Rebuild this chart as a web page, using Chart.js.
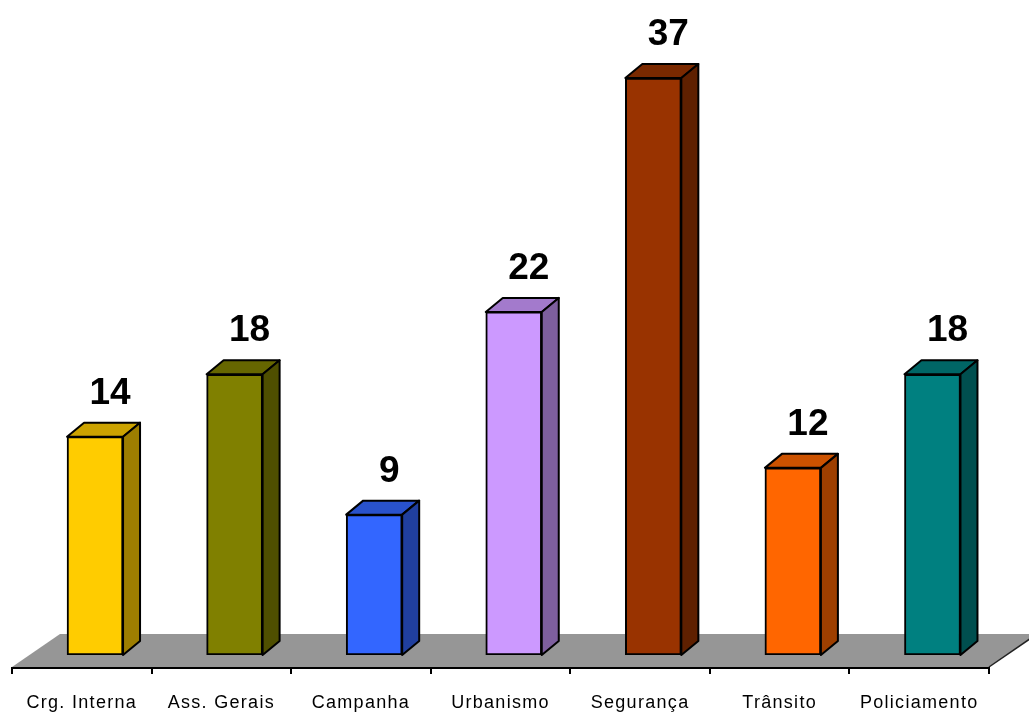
<!DOCTYPE html>
<html>
<head>
<meta charset="utf-8">
<script src="https://cdn.jsdelivr.net/npm/chart.js@4.4.1/dist/chart.umd.min.js"></script>
<style>
    html, body { margin: 0; padding: 0; background: #fff; }
    #wrap { width: 1029px; height: 713px; }
</style>
</head>
<body>
<div id="wrap"><canvas id="chart"></canvas></div>
<script>
    const categories = ['Crg. Interna', 'Ass. Gerais', 'Campanha', 'Urbanismo', 'Segurança', 'Trânsito', 'Policiamento'];
    const values = [14, 18, 9, 22, 37, 12, 18];
    const barColors = ['#ffcc00', '#808000', '#3366ff', '#cc99ff', '#993300', '#ff6600', '#008080'];

    // bars sit a bit to the right of the category centre (3D depth)
    const BAR_SHIFT = 0.095;
    const DEPTH = { dx: 17, dy: -14 };
    const FLOOR = { dx: 48, dy: -33, front: 12 };

    function shade(hex, f) {
        const n = parseInt(hex.slice(1), 16);
        const r = Math.round(((n >> 16) & 255) * f);
        const g = Math.round(((n >> 8) & 255) * f);
        const b = Math.round((n & 255) * f);
        return 'rgb(' + r + ',' + g + ',' + b + ')';
    }

    const bars3d = {
        id: 'bars3d',
        beforeDraw: function(chart) {
            chart.ctx.letterSpacing = '1.3px';
        },
        beforeDatasetsDraw: function(chart) {
            const ctx = chart.ctx;
            ctx.letterSpacing = '0px';
            const xs = chart.scales.x;
            const area = chart.chartArea;
            const left = xs.getPixelForValue(-0.5);
            const right = xs.getPixelForValue(categories.length - 0.5);
            const front = area.bottom + FLOOR.front;
            const back = front + FLOOR.dy;

            ctx.save();
            ctx.fillStyle = '#969696';
            ctx.beginPath();
            ctx.moveTo(left, front);
            ctx.lineTo(right, front);
            ctx.lineTo(right + FLOOR.dx, back);
            ctx.lineTo(left + FLOOR.dx, back);
            ctx.closePath();
            ctx.fill();

            // right edge of floor
            ctx.strokeStyle = '#222';
            ctx.lineWidth = 1.5;
            ctx.beginPath();
            ctx.moveTo(right, front);
            ctx.lineTo(right + FLOOR.dx, back);
            ctx.stroke();

            // axis line + tick marks
            ctx.strokeStyle = '#000';
            ctx.lineWidth = 2;
            ctx.beginPath();
            ctx.moveTo(left, front + 1);
            ctx.lineTo(right, front + 1);
            for (let i = 0; i <= categories.length; i++) {
                const tx = Math.round(xs.getPixelForValue(i - 0.5));
                ctx.moveTo(tx, front);
                ctx.lineTo(tx, front + 7);
            }
            ctx.stroke();
            ctx.restore();
        },
        afterDatasetsDraw: function(chart) {
            const ctx = chart.ctx;
            const meta = chart.getDatasetMeta(0);
            ctx.save();
            ctx.lineJoin = 'round';
            ctx.strokeStyle = '#000';
            ctx.lineWidth = 2;
            meta.data.forEach(function(bar, i) {
                const p = bar.getProps(['x', 'y', 'base', 'width'], true);
                const x1 = p.x - p.width / 2;
                const x2 = p.x + p.width / 2;
                const top = p.y;
                const base = p.base;

                // top face
                ctx.fillStyle = shade(barColors[i], 0.8);
                ctx.beginPath();
                ctx.moveTo(x1, top);
                ctx.lineTo(x1 + DEPTH.dx, top + DEPTH.dy);
                ctx.lineTo(x2 + DEPTH.dx, top + DEPTH.dy);
                ctx.lineTo(x2, top);
                ctx.closePath();
                ctx.fill();
                ctx.stroke();

                // side face
                ctx.fillStyle = shade(barColors[i], 0.62);
                ctx.beginPath();
                ctx.moveTo(x2, top);
                ctx.lineTo(x2 + DEPTH.dx, top + DEPTH.dy);
                ctx.lineTo(x2 + DEPTH.dx, base + DEPTH.dy);
                ctx.lineTo(x2, base);
                ctx.closePath();
                ctx.fill();
                ctx.stroke();

                // value label
                ctx.fillStyle = '#000';
                ctx.font = 'bold 37px "Liberation Sans", Arial, sans-serif';
                ctx.textAlign = 'center';
                ctx.textBaseline = 'alphabetic';
                ctx.fillText(String(values[i]), p.x + 15, top - 33);
            });
            ctx.restore();
        }
    };

    Chart.defaults.font.family = '"Liberation Sans", Arial, sans-serif';

    new Chart(document.getElementById('chart'), {
        type: 'bar',
        data: {
            datasets: [{
                data: values.map(function(v, i) { return { x: i + BAR_SHIFT, y: v }; }),
                backgroundColor: barColors,
                borderColor: '#000',
                borderWidth: 2,
                borderSkipped: false,
                barThickness: 56
            }]
        },
        options: {
            responsive: true,
            maintainAspectRatio: false,
            animation: false,
            layout: { padding: { left: 12, right: 40, top: 0, bottom: 0 } },
            plugins: {
                legend: { display: false },
                tooltip: { enabled: false }
            },
            scales: {
                x: {
                    type: 'linear',
                    offset: false,
                    min: -0.5,
                    max: categories.length - 0.5,
                    grid: { display: false, drawTicks: false, offset: false },
                    border: { display: false },
                    afterBuildTicks: function(scale) {
                        scale.ticks = categories.map(function(c, i) { return { value: i }; });
                    },
                    afterFit: function(scale) {
                        scale.height = 58;
                        scale.paddingLeft = 0;
                        scale.paddingRight = 0;
                    },
                    ticks: {
                        autoSkip: false,
                        maxRotation: 0,
                        padding: 37,
                        color: '#000',
                        font: { size: 18 },
                        callback: function(v) { return categories[v]; }
                    }
                },
                y: {
                    display: false,
                    min: 0,
                    max: 42
                }
            }
        },
        plugins: [bars3d]
    });
</script>
</body>
</html>
